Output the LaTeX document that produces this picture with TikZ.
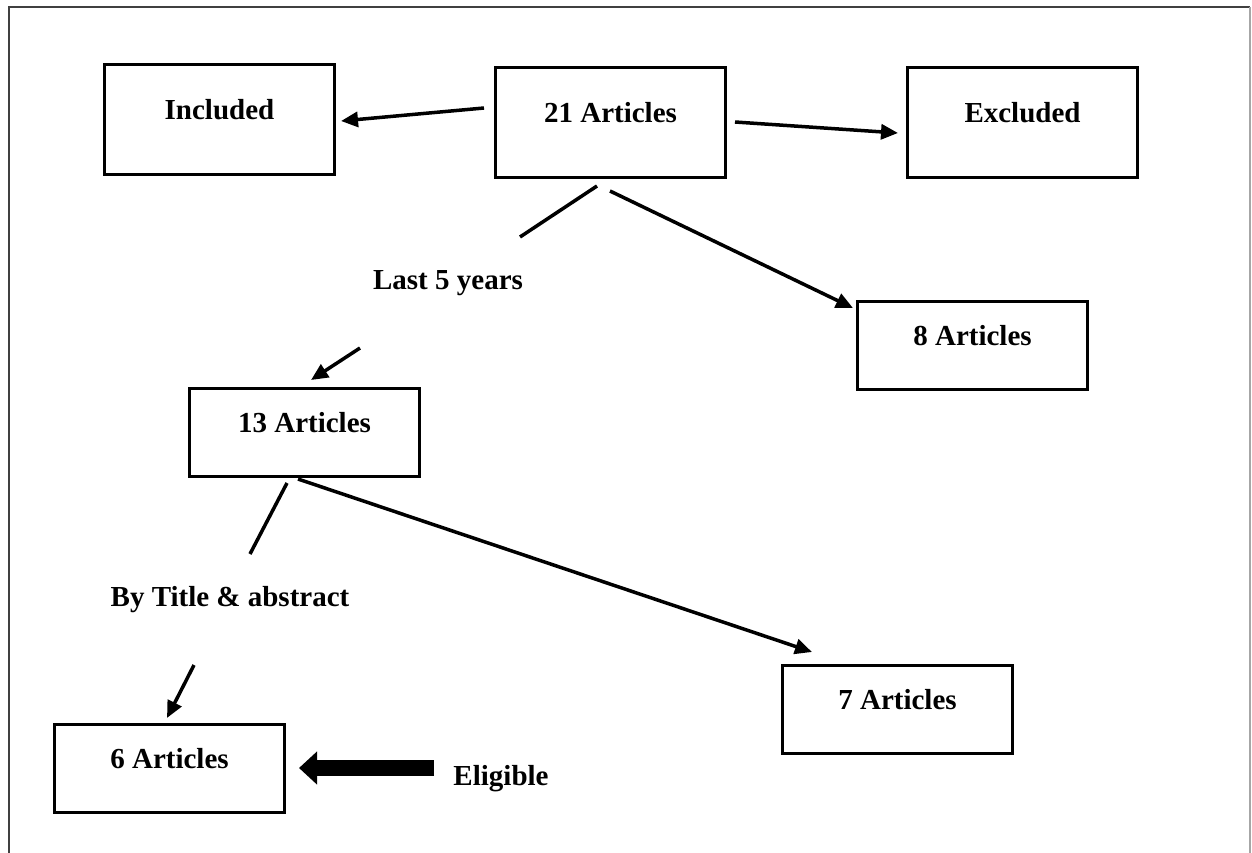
\documentclass[tikz,border=0pt]{standalone}
\usepackage{fontspec}
\setmainfont{Liberation Serif}
\usetikzlibrary{arrows.meta}
\begin{document}
\begin{tikzpicture}[x=1pt,y=-1pt,
  every node/.style={font=\fontsize{29}{34}\selectfont\bfseries},
  bigbox/.style={draw, line width=3pt, anchor=north west, minimum width=230pt,
    inner xsep=0pt, inner ysep=0pt, text height=55pt, text depth=55pt},
  smallbox/.style={bigbox, text height=44pt, text depth=44pt},
  lbl/.style={inner sep=0pt},
  conn/.style={line width=3.5pt},
  arr/.style={conn, -{Triangle[length=17pt,width=15pt]}},
  fatarr/.style={line width=16pt, -{Triangle[length=18pt,width=32pt]}},
  frameline/.style={line width=2pt}
]
\useasboundingbox (0,0) rectangle (1252,853);
% outer frame (open at the bottom)
\draw[frameline, black!75] (9,853) -- (9,7) -- (1250,7);
\draw[frameline, black!35] (1250,7) -- (1250,853);

% boxes
\node[bigbox] (inc) at (103,63) {Included};
\node[bigbox] (a21) at (494,66) {21 Articles};
\node[bigbox] (exc) at (906,66) {Excluded};
\node[smallbox] (a8) at (856,300) {8 Articles};
\node[smallbox] (a13) at (188,387) {13 Articles};
\node[smallbox] (a7) at (781,664) {7 Articles};
\node[smallbox] (a6) at (53,723) {6 Articles};

% labels
\node[lbl] (l5) at (448,283) {Last 5 years};
\node[lbl] (lt) at (230,600) {By Title \& abstract};
\node[lbl] (le) at (501,779) {Eligible};

% connector end points
\coordinate (c1s) at (484,108); \coordinate (c1e) at (341,121);
\coordinate (c2s) at (735,122); \coordinate (c2e) at (898,133);
\coordinate (c3s) at (597,186); \coordinate (c3m) at (520,237);
\coordinate (c3n) at (360,348); \coordinate (c3e) at (311,380);
\coordinate (c4s) at (610,191); \coordinate (c4e) at (853,308);
\coordinate (c5s) at (287,483); \coordinate (c5m) at (250,554);
\coordinate (c5n) at (194,665); \coordinate (c5e) at (167,718);
\coordinate (c6s) at (298,479); \coordinate (c6e) at (812,652);
\coordinate (fs) at (434,768); \coordinate (fe) at (299,768);

% connectors
\draw[arr] (c1s) -- (c1e);
\draw[arr] (c2s) -- (c2e);
\draw[conn] (c3s) -- (c3m);
\draw[arr] (c3n) -- (c3e);
\draw[arr] (c4s) -- (c4e);
\draw[conn] (c5s) -- (c5m);
\draw[arr] (c5n) -- (c5e);
\draw[arr] (c6s) -- (c6e);
\draw[fatarr] (fs) -- (fe);
\end{tikzpicture}
\end{document}
